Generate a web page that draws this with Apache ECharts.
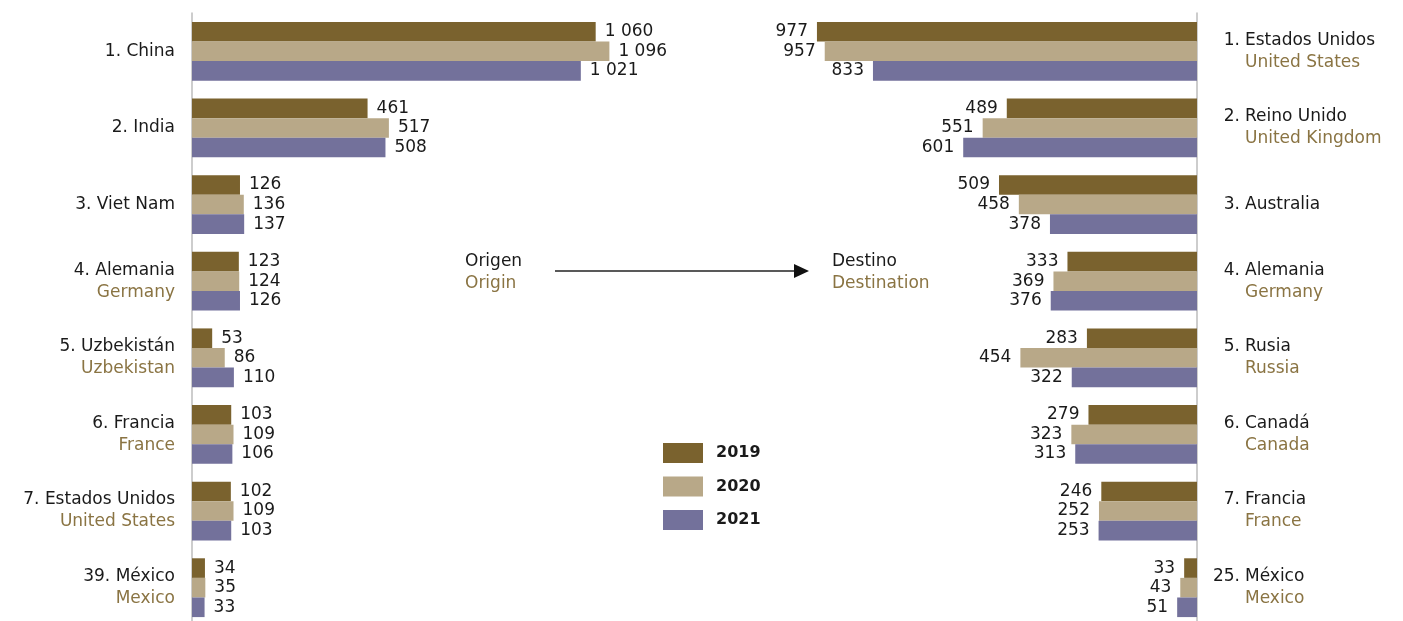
<!DOCTYPE html>
<html>
<head>
<meta charset="utf-8">
<script src="https://cdn.jsdelivr.net/npm/echarts@6/dist/echarts.min.js"></script>
<style>
  html, body { margin: 0; padding: 0; background: #fff; overflow: hidden; }
  #chart { width: 1403px; height: 630px; }
</style>
</head>
<body>
<div id="chart"></div>
<script>
// origen (izquierda)
const leftRank = [1, 2, 3, 4, 5, 6, 7, 39];
const leftEs = ['China', 'India', 'Viet Nam', 'Alemania', 'Uzbekistán', 'Francia', 'Estados Unidos', 'México'];
const leftEn = ['', '', '', 'Germany', 'Uzbekistan', 'France', 'United States', 'Mexico'];
const left2019 = [1060, 461, 126, 123, 53, 103, 102, 34];
const left2020 = [1096, 517, 136, 124, 86, 109, 109, 35];
const left2021 = [1021, 508, 137, 126, 110, 106, 103, 33];

// destino (derecha)
const rightRank = [1, 2, 3, 4, 5, 6, 7, 25];
const rightEs = ['Estados Unidos', 'Reino Unido', 'Australia', 'Alemania', 'Rusia', 'Canadá', 'Francia', 'México'];
const rightEn = ['United States', 'United Kingdom', '', 'Germany', 'Russia', 'Canada', 'France', 'Mexico'];
const right2019 = [977, 489, 509, 333, 283, 279, 246, 33];
const right2020 = [957, 551, 458, 369, 454, 323, 252, 43];
const right2021 = [833, 601, 378, 376, 322, 313, 253, 51];

const years = ['2019', '2020', '2021'];
const colors = ['#7a622e', '#b8a888', '#73719b'];

const FONT = 'DejaVu Sans';
const FS = 17;
const EN_COLOR = '#8a7443';

function fmt(v) {
  return String(v).replace(/\B(?=(\d{3})+(?!\d))/g, ' ');
}

const chart = echarts.init(document.getElementById('chart'));

function barSeries(name, data, idx, side) {
  return {
    name: name,
    type: 'bar',
    xAxisIndex: side,
    yAxisIndex: side === 0 ? 0 : 1,
    data: data,
    barWidth: 19.6,
    barGap: '0%',
    itemStyle: { color: colors[idx] },
    label: {
      show: true,
      position: side === 0 ? 'right' : 'left',
      distance: 9,
      color: '#1a1a1a',
      fontFamily: FONT,
      fontSize: FS,
      formatter: p => fmt(p.value)
    }
  };
}

const series = [];
years.forEach((y, i) => {
  series.push(barSeries(y, [left2019, left2020, left2021][i], i, 0));
});
years.forEach((y, i) => {
  series.push(barSeries(y, [right2019, right2020, right2021][i], i, 1));
});

const rich = {
  es: { fontFamily: FONT, fontSize: FS, lineHeight: 22, color: '#1a1a1a' },
  en: { fontFamily: FONT, fontSize: FS, lineHeight: 22, color: EN_COLOR }
};

const option = {
  animation: false,
  color: colors,
  textStyle: { fontFamily: FONT },
  legend: {
    orient: 'vertical',
    left: 663,
    top: 443,
    padding: 0,
    icon: 'rect',
    itemWidth: 40,
    itemHeight: 20,
    itemGap: 13.5,
    data: years,
    textStyle: { fontFamily: FONT, fontSize: 16, fontWeight: 'bold', color: '#1a1a1a', padding: [0, 0, 0, 8] }
  },
  grid: [
    { left: 192, width: 457, top: 13, height: 613 },
    { left: 808, width: 389, top: 13, height: 613 }
  ],
  xAxis: [
    { gridIndex: 0, type: 'value', min: 0, max: 1200, show: false },
    { gridIndex: 1, type: 'value', min: 0, max: 1000, inverse: true, show: false }
  ],
  yAxis: [
    {
      gridIndex: 0,
      type: 'category',
      inverse: true,
      data: leftEs,
      axisLine: { show: true, lineStyle: { color: '#bdbdbd', width: 1.5 } },
      axisTick: { show: false },
      axisLabel: {
        margin: 17,
        align: 'right',
        fontFamily: FONT,
        fontSize: FS,
        lineHeight: 22,
        color: '#1a1a1a',
        formatter: (v, i) => {
          let s = '{es|' + leftRank[i] + '. ' + v + '}';
          if (leftEn[i]) s += '\n{en|' + leftEn[i] + '}';
          return s;
        },
        rich: rich
      }
    },
    {
      gridIndex: 1,
      type: 'category',
      inverse: true,
      position: 'right',
      data: rightEs,
      axisLine: { show: true, lineStyle: { color: '#bdbdbd', width: 1.5 } },
      axisTick: { show: false },
      axisLabel: {
        margin: 48,
        align: 'left',
        fontFamily: FONT,
        fontSize: FS,
        lineHeight: 22,
        color: '#1a1a1a',
        formatter: (v, i) => {
          let s = '{es|' + v + '}';
          if (rightEn[i]) s += '\n{en|' + rightEn[i] + '}';
          return s;
        },
        rich: rich
      }
    },
    {
      // numeración que cuelga a la izquierda del nombre
      gridIndex: 1,
      type: 'category',
      inverse: true,
      position: 'right',
      data: rightEs,
      axisLine: { show: false },
      axisTick: { show: false },
      axisLabel: {
        margin: 43,
        align: 'right',
        fontFamily: FONT,
        fontSize: FS,
        lineHeight: 22,
        color: '#1a1a1a',
        formatter: (v, i) => rightRank[i] + '.' + (rightEn[i] ? '\n ' : '')
      }
    }
  ],
  graphic: [
    {
      type: 'text', left: 465, top: 253,
      style: { text: 'Origen', font: FS + 'px "DejaVu Sans"', fill: '#1a1a1a' }
    },
    {
      type: 'text', left: 465, top: 275,
      style: { text: 'Origin', font: FS + 'px "DejaVu Sans"', fill: EN_COLOR }
    },
    {
      type: 'text', left: 832, top: 253,
      style: { text: 'Destino', font: FS + 'px "DejaVu Sans"', fill: '#1a1a1a' }
    },
    {
      type: 'text', left: 832, top: 275,
      style: { text: 'Destination', font: FS + 'px "DejaVu Sans"', fill: EN_COLOR }
    },
    {
      type: 'line',
      shape: { x1: 555, y1: 271, x2: 796, y2: 271 },
      style: { stroke: '#222', lineWidth: 1.5 }
    },
    {
      type: 'polygon',
      shape: { points: [[794, 264], [809, 271], [794, 278]] },
      style: { fill: '#111' }
    }
  ],
  series: series
};

chart.setOption(option);
</script>
</body>
</html>
